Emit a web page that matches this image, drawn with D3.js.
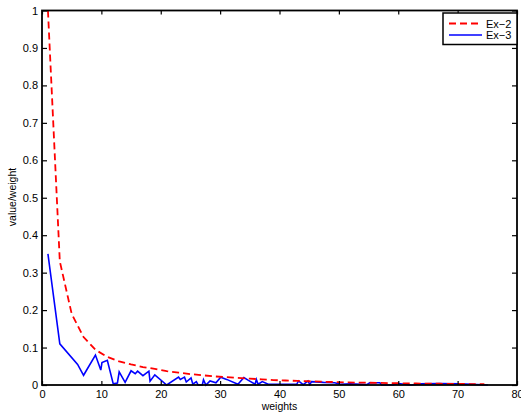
<!DOCTYPE html>
<html>
<head>
<meta charset="utf-8">
<script src="https://cdn.jsdelivr.net/npm/d3@7/dist/d3.min.js"></script>
<style>
  body { margin: 0; background: #fff; }
  text { font-family: "Liberation Sans", Arial, Helvetica, sans-serif; fill: #000; }
</style>
</head>
<body>
<div id="chart"></div>
<script>
// Ex-2 (dashed red)
const ex2Weights = [1, 3, 5, 7, 9, 11, 13, 15, 17, 19, 21, 23, 25, 27, 29, 31, 33, 35, 37,
    39, 41, 43, 45, 47, 49, 51, 53, 55, 57, 59, 61, 63, 65, 67, 69, 71, 73, 74.5];
const ex2Values = [1.0, 0.33, 0.19, 0.128, 0.094, 0.075, 0.063, 0.055, 0.048, 0.043, 0.037,
    0.033, 0.029, 0.026, 0.023, 0.021, 0.019, 0.017, 0.015, 0.013, 0.012, 0.011, 0.010,
    0.009, 0.008, 0.007, 0.0065, 0.006, 0.0055, 0.005, 0.0045, 0.004, 0.0037, 0.0033,
    0.003, 0.0027, 0.0024, 0.002];

// Ex-3 (solid blue)
const ex3Weights = [1, 3, 6, 7, 9, 9.9, 10.1, 11, 12, 12.7, 13, 14, 15, 15.7, 16.1, 17, 18,
    18.2, 19, 21, 23, 23.3, 24, 24.3, 25.1, 25.4, 26, 26.3, 27, 27.2, 27.6, 28.3, 29.3,
    30.1, 31.1, 33, 34, 34.7, 35.9, 36.1, 36.4, 37.1, 38.1, 42.9, 43.2, 44, 44.8, 45.1,
    45.4, 47.4, 49.3, 50.2, 51.9, 54.7, 55.2, 56.9, 57.2, 59.1, 60, 62.2, 63.6, 67, 70.4, 75.1];
const ex3Values = [0.35, 0.11, 0.055, 0.026, 0.08, 0.04, 0.06, 0.066, 0.003, 0.005, 0.035,
    0.007, 0.038, 0.03, 0.037, 0.025, 0.037, 0.01, 0.027, 0.0, 0.021, 0.015, 0.021, 0.008,
    0.019, 0.002, 0.009, 0.0, 0.0, 0.014, 0.0, 0.011, 0.006, 0.021, 0.015, 0.002, 0.02,
    0.013, 0.002, 0.015, 0.002, 0.009, 0.002, 0.002, 0.011, 0.001, 0.011, 0.001, 0.009,
    0.007, 0.006, 0.002, 0.003, 0.001, 0.006, 0.006, 0.0, 0.0, 0.004, 0.0, 0.003, 0.004,
    0.003, 0.0];

const xTicks = [0, 10, 20, 30, 40, 50, 60, 70, 80];
const yTicks = [0, 0.1, 0.2, 0.3, 0.4, 0.5, 0.6, 0.7, 0.8, 0.9, 1];
const yTickLabels = ["0", "0.1", "0.2", "0.3", "0.4", "0.5", "0.6", "0.7", "0.8", "0.9", "1"];
const seriesNames = ["Ex\u22122", "Ex\u22123"];

const width = 521, height = 413;
const margin = {left: 42, top: 10.5, right: 4, bottom: 28};
const w = width - margin.left - margin.right;
const h = height - margin.top - margin.bottom;

const svg = d3.select("#chart").append("svg")
    .attr("width", width)
    .attr("height", height);

const g = svg.append("g")
    .attr("transform", `translate(${margin.left},${margin.top})`);

const x = d3.scaleLinear().domain([0, 80]).range([0, w]);
const y = d3.scaleLinear().domain([0, 1]).range([h, 0]);

const line = d3.line()
    .x(d => x(d[0]))
    .y(d => y(d[1]));

const ex2 = ex2Weights.map((d, i) => [d, ex2Values[i]]);
const ex3 = ex3Weights.map((d, i) => [d, ex3Values[i]]);

g.append("path")
    .datum(ex3)
    .attr("d", line)
    .attr("fill", "none")
    .attr("stroke", "#0000ff")
    .attr("stroke-width", 1.6)
    .attr("stroke-linejoin", "miter");

g.append("path")
    .datum(ex2)
    .attr("d", line)
    .attr("fill", "none")
    .attr("stroke", "#ff0000")
    .attr("stroke-width", 1.8)
    .attr("stroke-dasharray", "7,4");

// axes, ticks pointing inward
const xAxis = g.append("g")
    .attr("transform", `translate(0,${h})`)
    .call(d3.axisBottom(x).tickValues(xTicks).tickSize(-4).tickPadding(5).tickFormat(d3.format("d")));
const xTop = g.append("g")
    .call(d3.axisTop(x).tickValues(xTicks).tickSize(-4).tickFormat(""));
const yAxis = g.append("g")
    .call(d3.axisLeft(y).tickValues(yTicks).tickSize(-5).tickPadding(4)
        .tickFormat((d, i) => yTickLabels[i]));
const yRight = g.append("g")
    .attr("transform", `translate(${w},0)`)
    .call(d3.axisRight(y).tickValues(yTicks).tickSize(-5).tickFormat(""));

[xAxis, xTop, yAxis, yRight].forEach(a => {
    a.select(".domain").remove();
    a.selectAll("line").attr("stroke", "#000").attr("stroke-width", 1.2);
    a.selectAll("text").style("font-size", "11px").attr("fill", "#000");
});

g.append("rect")
    .attr("width", w)
    .attr("height", h)
    .attr("fill", "none")
    .attr("stroke", "#000")
    .attr("stroke-width", 1.8);

svg.append("text")
    .attr("x", margin.left + w / 2)
    .attr("y", 410)
    .attr("text-anchor", "middle")
    .style("font-size", "10.5px")
    .text("weights");

svg.append("text")
    .attr("transform", `translate(16,197) rotate(-90)`)
    .attr("text-anchor", "middle")
    .style("font-size", "10.5px")
    .text("value/weight");

// legend
const legend = svg.append("g").attr("transform", "translate(443,13)");
legend.append("rect")
    .attr("width", 74)
    .attr("height", 31.5)
    .attr("fill", "#fff")
    .attr("stroke", "#000")
    .attr("stroke-width", 1.5);

const legendStyles = [
    {color: "#ff0000", dash: "7,4", width: 1.8},
    {color: "#0000ff", dash: null, width: 1.6}
];
seriesNames.forEach((name, i) => {
    const ly = 10.5 + i * 11.5;
    legend.append("line")
        .attr("x1", 6).attr("x2", 39)
        .attr("y1", ly).attr("y2", ly)
        .attr("stroke", legendStyles[i].color)
        .attr("stroke-width", legendStyles[i].width)
        .attr("stroke-dasharray", legendStyles[i].dash);
    legend.append("text")
        .attr("x", 43)
        .attr("y", ly + 4)
        .style("font-size", "11px")
        .text(name);
});
</script>
</body>
</html>
